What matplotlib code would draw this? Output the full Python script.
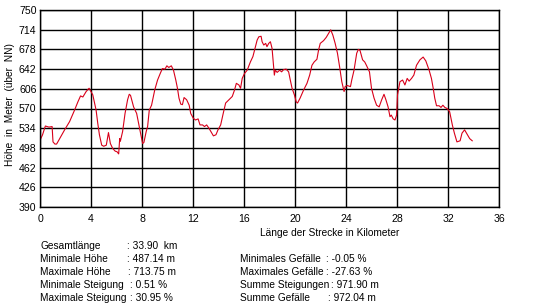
import matplotlib
matplotlib.use("Agg")
import matplotlib.pyplot as plt

plt.rcParams['font.family'] = ['Liberation Sans', 'DejaVu Sans']

# distance along route (km) and elevation (m)
km = [0.0, 0.2, 0.42, 0.7, 0.95, 1.02, 1.17, 1.3, 1.4, 1.93, 2.32, 2.71, 2.97, 3.18, 3.36,
      3.62, 3.85, 4.0, 4.14, 4.4, 4.53, 4.66, 4.84, 5.0, 5.2, 5.37, 5.52, 5.7, 5.9, 6.04,
      6.17, 6.25, 6.3, 6.48, 6.67, 6.87, 7.0, 7.1, 7.34, 7.58, 7.73, 7.86, 8.05, 8.15, 8.33,
      8.44, 8.57, 8.75, 9.0, 9.22, 9.43, 9.6, 9.8, 9.95, 10.1, 10.3, 10.47, 10.65, 10.78,
      10.9, 11.04, 11.17, 11.3, 11.5, 11.7, 11.82, 12.03, 12.2, 12.4, 12.55, 12.75, 12.9,
      13.07, 13.25, 13.43, 13.6, 13.8, 13.96, 14.17, 14.37, 14.56, 14.82, 15.08, 15.26,
      15.4, 15.6, 15.73, 15.86, 16.04, 16.25, 16.5, 16.7, 16.93, 17.03, 17.16, 17.34, 17.42,
      17.55, 17.7, 17.8, 17.94, 18.07, 18.2, 18.28, 18.38, 18.45, 18.6, 18.8, 18.95, 19.1,
      19.3, 19.5, 19.63, 19.77, 19.95, 20.1, 20.2, 20.4, 20.68, 20.94, 21.15, 21.33, 21.5,
      21.72, 21.85, 21.98, 22.24, 22.45, 22.63, 22.8, 22.97, 23.15, 23.33, 23.5, 23.67,
      23.85, 23.93, 24.1, 24.35, 24.45, 24.63, 24.84, 24.97, 25.1, 25.3, 25.47, 25.6, 25.84,
      26.0, 26.2, 26.4, 26.6, 26.8, 26.98, 27.13, 27.3, 27.45, 27.55, 27.7, 27.84, 27.97,
      28.04, 28.23, 28.44, 28.62, 28.8, 28.95, 29.14, 29.32, 29.53, 29.8, 30.05, 30.26,
      30.52, 30.7, 30.84, 30.96, 31.1, 31.3, 31.45, 31.6, 31.75, 31.93, 32.13, 32.34, 32.5,
      32.7, 32.95, 33.1, 33.3, 33.5, 33.7, 33.9]
elev = [512, 522, 538, 536, 537, 509, 505, 505, 509, 531, 546, 567, 582, 593, 591,
        601, 607, 601, 595, 567, 543, 522, 503, 501, 503, 526, 506, 497, 492, 491,
        487, 515, 510, 528, 561, 586, 596, 594, 573, 561, 543, 528, 506, 508, 528,
        537, 567, 576, 604, 622, 634, 643, 642, 648, 645, 648, 640, 622, 607,
        589, 578, 577, 590, 586, 576, 561, 552, 549, 551, 540, 540, 537,
        540, 534, 527, 520, 522, 531, 540, 561, 580, 586, 592, 604,
        616, 613, 607, 625, 634, 640, 655, 665, 686, 695, 701, 702, 692,
        686, 689, 683, 689, 692, 680, 659, 631, 640, 636, 640, 637, 641,
        642, 637, 622, 607, 595, 582, 580, 589, 604, 616, 631, 649, 655,
        660, 677, 689, 694, 700, 707, 713.75, 704, 689, 671, 646, 619,
        601, 610, 612, 610, 622, 640, 671, 678, 676, 659, 655, 649, 637,
        607, 589, 576, 573, 586, 596, 586, 573, 555, 558, 551, 549, 558,
        595, 619, 622, 613, 625, 620, 625, 631, 649, 659, 664, 657,
        640, 625, 607, 589, 575, 575, 572, 576, 572, 570, 564, 540, 525,
        509, 511, 525, 531, 523, 515, 511]

x_ticks = [0, 4, 8, 12, 16, 20, 24, 28, 32, 36]
y_ticks = [390, 426, 462, 498, 534, 570, 606, 642, 678, 714, 750]

stats_left_labels = ["Gesamtlänge", "Minimale Höhe", "Maximale Höhe",
                     "Minimale Steigung", "Maximale Steigung"]
stats_left_values = [": 33.90  km", ": 487.14 m", ": 713.75 m", ": 0.51 %", ": 30.95 %"]
stats_right_labels = ["Minimales Gefälle", "Maximales Gefälle", "Summe Steigungen",
                      "Summe Gefälle"]
stats_right_values = [": -0.05 %", ": -27.63 %", ": 971.90 m", ": 972.04 m"]

W, H = 549, 308
fig = plt.figure(figsize=(W / 100, H / 100), dpi=100)
fig.patch.set_facecolor('white')

l, r, t, b = 40, 499, 10, 207
ax = fig.add_axes([l / W, 1 - b / H, (r - l) / W, (b - t) / H])
ax.plot(km, elev, color='#d8001a', lw=0.8)
ax.set_xlim(0, 36)
ax.set_ylim(390, 750)
ax.set_xticks(x_ticks)
ax.set_yticks(y_ticks)
ax.grid(True, color='black', lw=1.0)
ax.set_axisbelow(True)
for s in ax.spines.values():
    s.set_color('black')
    s.set_linewidth(1.0)
ax.tick_params(length=0, labelsize=7.6, colors='black')
ax.tick_params(axis='x', pad=5)
ax.tick_params(axis='y', pad=2.5)

fs = 7.3
fig.text(10 / W, 1 - 105 / H, "Höhe  in  Meter  (über  NN)", rotation=90,
         ha='center', va='center', fontsize=fs)
fig.text(330 / W, 1 - 233 / H, "Länge der Strecke in Kilometer",
         ha='center', va='center', fontsize=fs)

rows = [246, 259, 272, 285, 298]
colon_left = [127, 127, 128, 130, 130]
for y, lab, val, cx in zip(rows, stats_left_labels, stats_left_values, colon_left):
    fig.text(40 / W, 1 - y / H, lab, ha='left', va='center', fontsize=fs)
    fig.text(cx / W, 1 - y / H, val, ha='left', va='center', fontsize=fs)
colon_right = [326, 326, 331, 328]
for y, lab, val, cx in zip(rows[1:], stats_right_labels, stats_right_values, colon_right):
    fig.text(240 / W, 1 - y / H, lab, ha='left', va='center', fontsize=fs)
    fig.text(cx / W, 1 - y / H, val, ha='left', va='center', fontsize=fs)

fig.savefig("out.png", dpi=100)
